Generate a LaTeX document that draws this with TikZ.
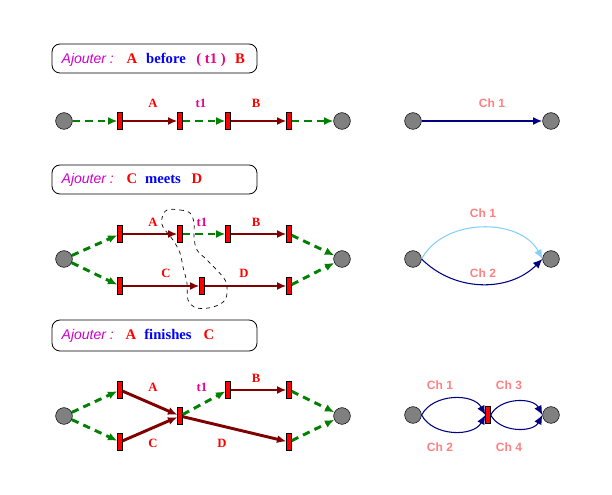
\documentclass[tikz,border=0pt]{standalone}
\usepackage{fontspec}
\setmainfont{Liberation Serif}
\setsansfont{Liberation Sans}
\usetikzlibrary{arrows.meta}

\definecolor{vert}{RGB}{0,128,0}
\definecolor{rougef}{RGB}{128,0,0}
\definecolor{bleuf}{RGB}{0,0,128}
\definecolor{bleuc}{RGB}{135,206,250}
\definecolor{saumon}{RGB}{255,128,128}
\definecolor{violet}{RGB}{204,0,204}

\tikzset{
  place/.style={circle, draw, fill=gray, inner sep=0pt, minimum size=12.5pt},
  trans/.style={rectangle, draw, fill=red, inner sep=0pt, minimum width=3.6pt, minimum height=12.5pt},
  flux/.style={vert, line width=2.2pt, dash pattern=on 5.5pt off 4pt, -{Latex[length=7pt,width=6pt]}},
  tache/.style={rougef, line width=2.2pt, -{Latex[length=7pt,width=6pt]}},
  chemin/.style={bleuf, line width=0.8pt, -{Latex[length=7pt,width=6pt]}},
  cadre/.style={draw, rounded corners=6pt, line width=0.6pt},
  etiq/.style={red, font=\bfseries\fontsize{9.5}{10}\selectfont},
  ch/.style={saumon, font=\sffamily\bfseries\fontsize{9}{10}\selectfont},
  mot/.style={font=\bfseries\fontsize{11}{12}\selectfont, anchor=base},
  ajout/.style={violet, font=\sffamily\itshape\fontsize{10.5}{12}\selectfont, anchor=base west}
}

\begin{document}
\begin{tikzpicture}[x=0.75pt, y=-0.75pt]
    \useasboundingbox (0,0) rectangle (612,495);

    % ---- Ajouter : A before (t1) B
    \draw[cadre] (52,44) rectangle (257,73);
    \node[ajout] (aj1) at (57,64) {Ajouter :};
    \node[mot, red] (m1a) at (132,64) {A};
    \node[mot, blue] (m1b) at (166,64) {before};
    \node[mot, magenta] (m1c) at (211,64) {( t1 )};
    \node[mot, red] (m1d) at (240,64) {B};

    \node[place] (p1g) at (64,121) {};
    \node[trans] (t1a) at (120,121) {};
    \node[trans] (t1b) at (180,121) {};
    \node[trans] (t1c) at (228,121) {};
    \node[trans] (t1d) at (289,121) {};
    \node[place] (p1d) at (342,121) {};

    \draw[flux] (p1g) -- (t1a);
    \draw[tache] (t1a) -- (t1b);
    \draw[flux] (t1b) -- (t1c);
    \draw[tache] (t1c) -- (t1d);
    \draw[flux] (t1d) -- (p1d);

    \node[etiq] (l1a) at (153,103) {A};
    \node[etiq, magenta] (l1t) at (201,103) {t1};
    \node[etiq] (l1b) at (256,103) {B};

    % chemins
    \node[place] (q1g) at (413,121) {};
    \node[place] (q1d) at (551,121) {};
    \draw[chemin, line width=2.2pt] (q1g) -- (q1d);
    \node[ch] (c11) at (492,103) {Ch 1};

    % ---- Ajouter : C meets D
    \draw[cadre] (52,165) rectangle (257,194);
    \node[ajout] (aj2) at (57,184) {Ajouter :};
    \node[mot, red] (m2a) at (132,184) {C};
    \node[mot, blue] (m2b) at (163,184) {meets};
    \node[mot, red] (m2c) at (197,184) {D};

    \node[place] (p2g) at (64,259) {};
    \node[trans] (t2a) at (120,234) {};
    \node[trans] (t2b) at (180,234) {};
    \node[trans] (t2c) at (228,234) {};
    \node[trans] (t2d) at (289,234) {};
    \node[trans] (t2e) at (120,286) {};
    \node[trans] (t2f) at (202,286) {};
    \node[trans] (t2g) at (289,286) {};
    \node[place] (p2d) at (342,259) {};

    \draw[flux] (p2g) -- (t2a);
    \draw[flux] (p2g) -- (t2e);
    \draw[tache] (t2a) -- (t2b);
    \draw[flux] (t2b) -- (t2c);
    \draw[tache] (t2c) -- (t2d);
    \draw[flux] (t2d) -- (p2d);
    \draw[tache] (t2e) -- (t2f);
    \draw[tache] (t2f) -- (t2g);
    \draw[flux] (t2g) -- (p2d);

    \draw[dashed, line width=0.5pt] plot[smooth cycle, tension=0.6] coordinates {
      (167,210) (180,210) (190,213) (194,223) (194,237) (197,250) (207,260)
      (223,277) (227,287) (225,300) (213,307) (197,308) (188,300) (187,283)
      (183,267) (180,253) (173,240) (163,227) (162,218)};

    \node[etiq] (l2a) at (153,222) {A};
    \node[etiq, magenta] (l2t) at (202,222) {t1};
    \node[etiq] (l2b) at (256,222) {B};
    \node[etiq] (l2c) at (166,273) {C};
    \node[etiq] (l2d) at (244,273) {D};

    % chemins
    \node[place] (q2g) at (413,259) {};
    \node[place] (q2d) at (551,259) {};
    \draw[chemin, bleuc] (q2g.east) to[bend left=62] (q2d.west);
    \draw[chemin] (q2g.east) to[bend right=45] (q2d.west);
    \node[ch] (c21) at (483,213) {Ch 1};
    \node[ch] (c22) at (483,273) {Ch 2};

    % ---- Ajouter : A finishes C
    \draw[cadre] (52,320) rectangle (257,351);
    \node[ajout] (aj3) at (57,340) {Ajouter :};
    \node[mot, red] (m3a) at (131,340) {A};
    \node[mot, blue] (m3b) at (168,340) {finishes};
    \node[mot, red] (m3c) at (209,340) {C};

    \node[place] (p3g) at (64,416) {};
    \node[trans] (t3a) at (120,390) {};
    \node[trans] (t3e) at (120,442) {};
    \node[trans] (t3m) at (180,416) {};
    \node[trans] (t3c) at (228,390) {};
    \node[trans] (t3d) at (289,390) {};
    \node[trans] (t3g) at (289,442) {};
    \node[place] (p3d) at (342,416) {};

    \draw[flux] (p3g) -- (t3a);
    \draw[flux] (p3g) -- (t3e);
    \draw[tache] (t3a) -- (t3m);
    \draw[tache] (t3e) -- (t3m);
    \draw[flux] (t3m) -- (t3c);
    \draw[tache] (t3c) -- (t3d);
    \draw[tache] (t3m) -- (t3g);
    \draw[flux] (t3d) -- (p3d);
    \draw[flux] (t3g) -- (p3d);

    \node[etiq] (l3a) at (153,387) {A};
    \node[etiq, magenta] (l3t) at (202,387) {t1};
    \node[etiq] (l3b) at (256,378) {B};
    \node[etiq] (l3c) at (153,443) {C};
    \node[etiq] (l3d) at (222,443) {D};

    % chemins
    \node[place] (q3g) at (413,415) {};
    \node[trans] (q3m) at (488,415) {};
    \node[place] (q3d) at (551,415) {};
    \draw[chemin] (q3g.east) to[bend left=62] (q3m.west);
    \draw[chemin] (q3g.east) to[bend right=62] (q3m.west);
    \draw[chemin] (q3m.east) to[bend left=62] (q3d.west);
    \draw[chemin] (q3m.east) to[bend right=62] (q3d.west);
    \node[ch] (c31) at (440,385) {Ch 1};
    \node[ch] (c33) at (509,385) {Ch 3};
    \node[ch] (c32) at (440,447) {Ch 2};
    \node[ch] (c34) at (509,447) {Ch 4};

\end{tikzpicture}
\end{document}
